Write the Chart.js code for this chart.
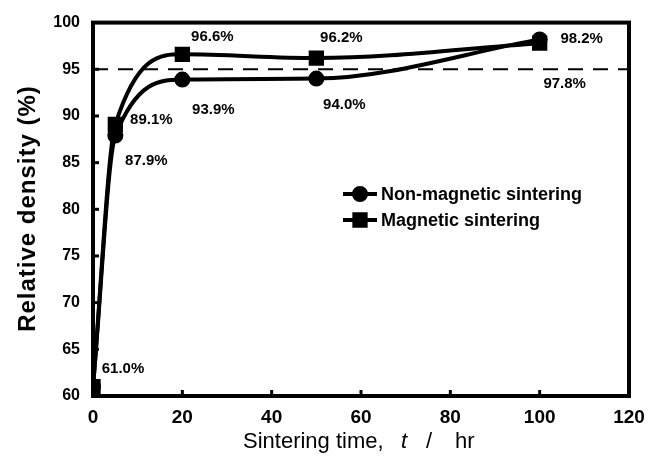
<!DOCTYPE html>
<html><head><meta charset="utf-8">
<script src="https://cdn.jsdelivr.net/npm/chart.js@4.4.1/dist/chart.umd.min.js"></script>
<style>html,body{margin:0;padding:0;background:#fff}canvas{display:block}</style>
</head><body>
<canvas id="c" width="655" height="457"></canvas>
<script>
// ---- data ----
const sinteringTime = [0, 5, 20, 50, 100];
const nonMagneticDensity = [61.0, 87.9, 93.9, 94.0, 98.2];
const magneticDensity = [61.0, 89.1, 96.6, 96.2, 97.8];
const nonMagneticLabels = ['61.0%', '87.9%', '93.9%', '94.0%', '98.2%'];
const magneticLabels = [null, '89.1%', '96.6%', '96.2%', '97.8%'];
const targetDensity = 95;
const targetRange = [0, 120];
const xTickValues = [0, 20, 40, 60, 80, 100, 120];
const yTickValues = [60, 65, 70, 75, 80, 85, 90, 95, 100];
const seriesNames = ['Non-magnetic sintering', 'Magnetic sintering'];

// ---- styles ----
const SANS = "'Liberation Sans', Arial, sans-serif";
const nonMagOffsets = [[30, -18], [31, 25], [31, 30], [28, 26], [42, -1]];
const magOffsets = [null, [36, -4], [30, -17], [25, -20], [25, 41]];

const pts = (xs, ys) => xs.map((x, i) => ({x: x, y: ys[i]}));

const overlay = {
  id: 'overlay',
  afterDatasetsDraw(chart) {
    const ctx = chart.ctx, a = chart.chartArea;
    const xs = chart.scales.x, ys = chart.scales.y;
    ctx.save();
    // frame
    ctx.strokeStyle = '#000';
    ctx.lineWidth = 4;
    ctx.strokeRect(a.left, a.top, a.right - a.left, a.bottom - a.top);
    // inward tick marks
    ctx.lineWidth = 3;
    xTickValues.forEach(v => {
      if (v === xTickValues[0] || v === xTickValues[xTickValues.length - 1]) return;
      const px = xs.getPixelForValue(v);
      ctx.beginPath(); ctx.moveTo(px, a.bottom); ctx.lineTo(px, a.bottom - 6); ctx.stroke();
    });
    yTickValues.forEach(v => {
      if (v === yTickValues[0] || v === yTickValues[yTickValues.length - 1]) return;
      const py = ys.getPixelForValue(v);
      ctx.beginPath(); ctx.moveTo(a.left, py); ctx.lineTo(a.left + 6, py); ctx.stroke();
    });
    // data labels
    ctx.fillStyle = '#000';
    ctx.font = "bold 15px " + SANS;
    ctx.textAlign = 'center';
    ctx.textBaseline = 'middle';
    const drawLabels = (labels, vals, offs) => {
      labels.forEach((t, i) => {
        if (!t) return;
        const px = xs.getPixelForValue(sinteringTime[i]);
        const py = ys.getPixelForValue(vals[i]);
        ctx.fillText(t, px + offs[i][0], py + offs[i][1]);
      });
    };
    drawLabels(nonMagneticLabels, nonMagneticDensity, nonMagOffsets);
    drawLabels(magneticLabels, magneticDensity, magOffsets);
    // legend
    const legendRows = [{y: 194, style: 'circle', r: 6}, {y: 220, style: 'rect', r: 8}];
    ctx.textAlign = 'left';
    ctx.font = "bold 18px " + SANS;
    legendRows.forEach((row, i) => {
      ctx.lineWidth = 4;
      ctx.beginPath(); ctx.moveTo(343, row.y); ctx.lineTo(377, row.y); ctx.stroke();
      Chart.helpers.drawPoint(ctx, {pointStyle: row.style, radius: row.r, borderWidth: 1}, 360, row.y);
      ctx.fill();
      ctx.fillText(seriesNames[i], 381, row.y + 1);
    });
    // axis titles
    ctx.textBaseline = 'alphabetic';
    ctx.save();
    ctx.translate(35, 208.5);
    ctx.rotate(-Math.PI / 2);
    ctx.textAlign = 'center';
    ctx.font = "bold 24px " + SANS;
    try { ctx.letterSpacing = '1px'; } catch (e) {}
    ctx.fillText('Relative density (%)', 0, 0);
    ctx.restore();
    try { ctx.letterSpacing = '0px'; } catch (e) {}
    ctx.textAlign = 'left';
    const base = 448;
    ctx.font = "22px " + SANS;
    ctx.fillText('Sintering time,', 243, base);
    ctx.font = "italic 22px " + SANS;
    ctx.fillText('t', 401, base);
    ctx.font = "22px " + SANS;
    ctx.fillText('/', 426, base);
    ctx.fillText('hr', 455, base);
    ctx.restore();
  }
};

new Chart(document.getElementById('c'), {
  type: 'line',
  data: {
    datasets: [
      {
        label: seriesNames[0],
        data: pts(sinteringTime, nonMagneticDensity),
        borderColor: '#000', backgroundColor: '#000',
        borderWidth: 4, pointStyle: 'circle', pointRadius: 6,
        cubicInterpolationMode: 'monotone', fill: false
      },
      {
        label: seriesNames[1],
        data: pts(sinteringTime, magneticDensity),
        borderColor: '#000', backgroundColor: '#000',
        borderWidth: 4, pointStyle: 'rect', pointRadius: 8,
        cubicInterpolationMode: 'monotone', fill: false
      },
      {
        label: 'target',
        data: targetRange.map(x => ({x: x, y: targetDensity})),
        borderColor: '#000', borderWidth: 2, borderDash: [15, 10],
        pointRadius: 0, fill: false
      }
    ]
  },
  options: {
    responsive: false, animation: false, devicePixelRatio: 1,
    layout: {padding: {top: 17, right: 26, left: 0, bottom: 0}},
    plugins: {legend: {display: false}, tooltip: {enabled: false}},
    scales: {
      x: {
        type: 'linear', min: 0, max: 120,
        afterBuildTicks: s => { s.ticks = xTickValues.map(v => ({value: v})); },
        grid: {display: false, drawTicks: false}, border: {display: false},
        ticks: {color: '#000', padding: 10, maxRotation: 0, autoSkip: false,
                font: {family: SANS, size: 19, weight: 'bold'}},
        afterFit: s => { s.height = 61; }
      },
      y: {
        type: 'linear', min: 60, max: 100,
        afterBuildTicks: s => { s.ticks = yTickValues.map(v => ({value: v})); },
        grid: {display: false, drawTicks: false}, border: {display: false},
        ticks: {color: '#000', padding: 13, autoSkip: false,
                font: {family: SANS, size: 16, weight: 'bold'}},
        afterFit: s => { s.width = 93; }
      }
    }
  },
  plugins: [overlay]
});
</script>
</body></html>
